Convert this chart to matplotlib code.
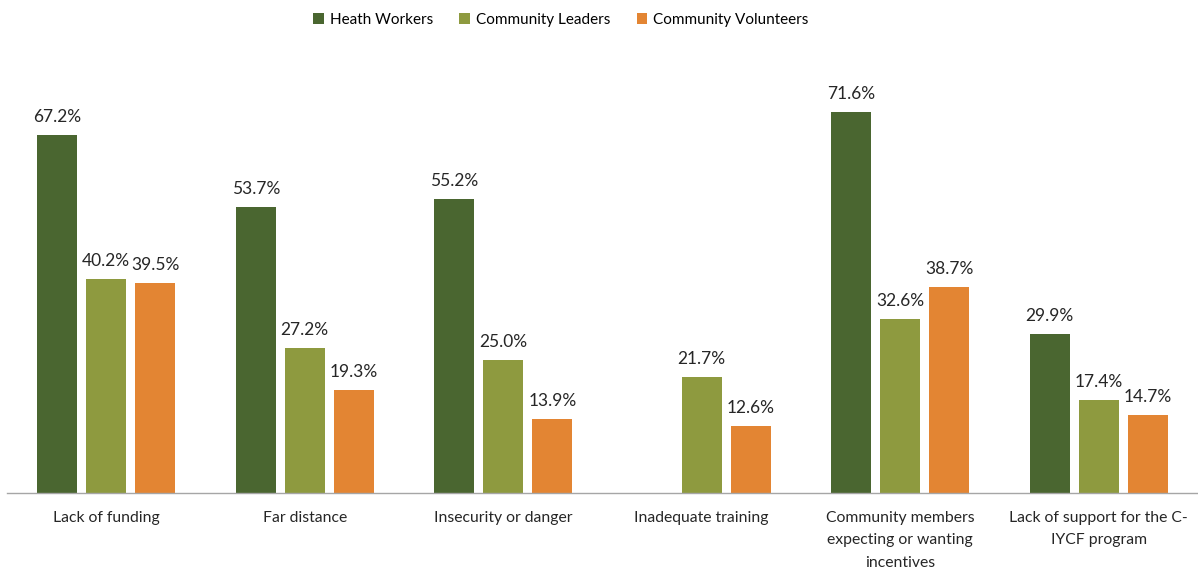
import matplotlib
matplotlib.use("Agg")
import matplotlib.pyplot as plt
import numpy as np

categories = ["Lack of funding", "Far distance", "Insecurity or danger",
              "Inadequate training", "Community members\nexpecting or wanting\nincentives",
              "Lack of support for the C-\nIYCF program"]
series_names = ["Heath Workers", "Community Leaders", "Community Volunteers"]
heath_workers = [67.2, 53.7, 55.2, np.nan, 71.6, 29.9]
community_leaders = [40.2, 27.2, 25.0, 21.7, 32.6, 17.4]
community_volunteers = [39.5, 19.3, 13.9, 12.6, 38.7, 14.7]
colors = ["#4A6630", "#8E9A3F", "#E38533"]

plt.rcParams['font.family'] = ['Lato', 'DejaVu Sans']

fig = plt.figure(figsize=(11.98, 5.71), dpi=100)
ax = fig.add_axes([7/1198, 78/571, 1191/1198, 426/571])

x = np.arange(len(categories))
width = 0.2
step = 0.247
handles = []
for i, (vals, name, c) in enumerate(zip([heath_workers, community_leaders, community_volunteers], series_names, colors)):
    pos = x + (i - 1) * step
    v = np.array(vals, dtype=float)
    mask = ~np.isnan(v)
    b = ax.bar(pos[mask], v[mask], width=width, color=c, label=name)
    handles.append(b)
    for p, val in zip(pos[mask], v[mask]):
        ax.text(p, val + 1.9, f"{val:.1f}%", ha="center", va="bottom", fontsize=12.5, color="#262626")

ax.set_xlim(-0.5, len(categories) - 0.5)
ax.set_ylim(0, 80)
ax.set_xticks(x)
ax.set_xticklabels(categories, fontsize=11.3, color="#262626", linespacing=1.75)
ax.tick_params(axis="x", length=0, pad=13)
ax.set_yticks([])
for s in ["top", "right", "left"]:
    ax.spines[s].set_visible(False)
ax.spines["bottom"].set_color("#A6A6A6")
ax.spines["bottom"].set_linewidth(1.0)

fig.legend(handles=handles, labels=series_names, loc="center", bbox_to_anchor=(561/1198, 1 - 20/571),
           ncol=3, frameon=False, fontsize=11, handlelength=0.7, handleheight=0.7,
           handletextpad=0.4, columnspacing=1.7)

fig.savefig("out.png", dpi=100)
